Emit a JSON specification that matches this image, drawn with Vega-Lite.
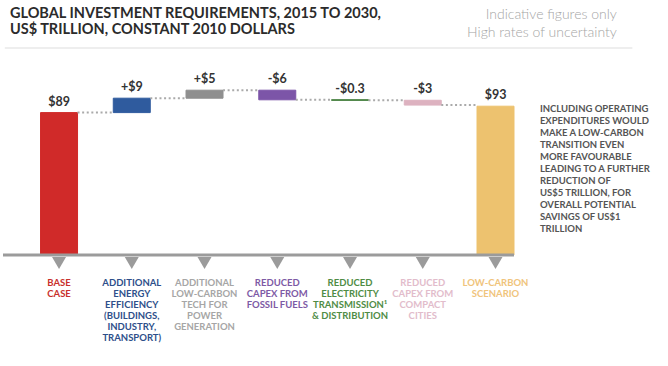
{
  "$schema": "https://vega.github.io/schema/vega-lite/v6.json",
  "width": 511,
  "height": 318,
  "autosize": {"type": "none"},
  "padding": {"left": 3, "top": 48, "right": 154, "bottom": 0},
  "config": {"view": {"stroke": null}, "font": "Lato"},
  "datasets": {
    "steps": [
      {"cat": "Base case", "label": "BASE|CASE", "start": 0, "end": 89, "top": 89, "value": "$89", "next": "Energy efficiency"},
      {"cat": "Energy efficiency", "label": "ADDITIONAL|ENERGY|EFFICIENCY|(BUILDINGS,|INDUSTRY,|TRANSPORT)", "start": 89, "end": 98, "top": 98, "value": "+$9", "next": "Low-carbon power"},
      {"cat": "Low-carbon power", "label": "ADDITIONAL|LOW-CARBON|TECH FOR|POWER|GENERATION", "start": 98, "end": 103, "top": 103, "value": "+$5", "next": "Fossil fuels"},
      {"cat": "Fossil fuels", "label": "REDUCED|CAPEX FROM|FOSSIL FUELS", "start": 103, "end": 97, "top": 103, "value": "-$6", "next": "Electricity T&D"},
      {"cat": "Electricity T&D", "label": "REDUCED|ELECTRICITY|TRANSMISSION¹|& DISTRIBUTION", "start": 97, "end": 96.7, "top": 97, "value": "-$0.3", "next": "Compact cities"},
      {"cat": "Compact cities", "label": "REDUCED|CAPEX FROM|COMPACT|CITIES", "start": 96.7, "end": 93.7, "top": 96.7, "value": "-$3", "next": "Low-carbon scenario"},
      {"cat": "Low-carbon scenario", "label": "LOW-CARBON|SCENARIO", "start": 0, "end": 93, "top": 93, "value": "$93", "next": null}
    ]
  },
  "layer": [
    {
      "data": {"name": "steps"},
      "mark": {"type": "bar", "strokeWidth": 1},
      "encoding": {
        "x": {
          "field": "cat", "type": "nominal", "sort": null, "axis": null,
          "scale": {"paddingInner": 0.4914, "paddingOuter": 0.258, "align": 1}
        },
        "y": {
          "field": "start", "type": "quantitative", "axis": null,
          "scale": {"domain": [-69.375, 129.375], "nice": false, "zero": false}
        },
        "y2": {"field": "end"},
        "color": {
          "field": "cat", "type": "nominal", "sort": null, "legend": null,
          "scale": {
            "domain": ["Base case", "Energy efficiency", "Low-carbon power", "Fossil fuels", "Electricity T&D", "Compact cities", "Low-carbon scenario"],
            "range": ["#d02a29", "#2f5b9e", "#8f8f8f", "#7c55a8", "#3c7a35", "#ddb2c0", "#edc26f"]
          }
        },
        "stroke": {
          "field": "cat", "type": "nominal", "sort": null, "legend": null,
          "scale": {
            "domain": ["Base case", "Energy efficiency", "Low-carbon power", "Fossil fuels", "Electricity T&D", "Compact cities", "Low-carbon scenario"],
            "range": ["#d02a29", "#2f5b9e", "#8f8f8f", "#7c55a8", "#3c7a35", "#ddb2c0", "#edc26f"]
          }
        }
      }
    },
    {
      "data": {"values": [{}]},
      "mark": {"type": "rule", "color": "#9b9b9b", "strokeWidth": 3},
      "encoding": {"y": {"datum": 0}}
    },
    {
      "data": {"name": "steps"},
      "mark": {"type": "point", "shape": "triangle-down", "filled": true, "size": 196, "color": "#9b9b9b", "opacity": 1, "yOffset": 8},
      "encoding": {
        "x": {"field": "cat", "type": "nominal", "sort": null},
        "y": {"datum": 0}
      }
    },
    {
      "data": {"name": "steps"},
      "transform": [{"filter": "datum.next != null"}],
      "mark": {"type": "rule", "color": "#aaaaaa", "strokeWidth": 2, "strokeDash": [2, 2.6]},
      "encoding": {
        "x": {"field": "cat", "type": "nominal", "sort": null, "bandPosition": 1},
        "x2": {"field": "next", "bandPosition": 0},
        "y": {"field": "end", "type": "quantitative"}
      }
    },
    {
      "data": {"name": "steps"},
      "mark": {"type": "text", "fontSize": 12.5, "fontWeight": "bold", "color": "#333333", "baseline": "alphabetic", "dy": -7},
      "encoding": {
        "x": {"field": "cat", "type": "nominal", "sort": null},
        "y": {"field": "top", "type": "quantitative"},
        "text": {"field": "value"}
      }
    },
    {
      "data": {"name": "steps"},
      "mark": {"type": "text", "fontSize": 9.5, "fontWeight": "bold", "baseline": "top", "align": "center", "dy": 23, "lineBreak": "|", "lineHeight": 11},
      "encoding": {
        "x": {"field": "cat", "type": "nominal", "sort": null},
        "y": {"datum": 0},
        "text": {"field": "label"},
        "color": {
          "field": "cat", "type": "nominal", "sort": null, "legend": null,
          "scale": {
            "domain": ["Base case", "Energy efficiency", "Low-carbon power", "Fossil fuels", "Electricity T&D", "Compact cities", "Low-carbon scenario"],
            "range": ["#c8302c", "#2e4f8a", "#a6a6a6", "#7d5aa5", "#4f8c45", "#e2bccb", "#f0c47c"]
          }
        }
      }
    },
    {
      "data": {"values": [{}]},
      "mark": {"type": "rule", "color": "#dddddd", "strokeWidth": 1},
      "encoding": {
        "y": {"datum": 129.375},
        "x": {"datum": "Base case", "bandPosition": -0.965},
        "x2": {"datum": "Low-carbon scenario", "bandPosition": 4.2}
      }
    },
    {
      "data": {"values": [{"t": "GLOBAL INVESTMENT REQUIREMENTS, 2015 TO 2030,|US$ TRILLION, CONSTANT 2010 DOLLARS"}]},
      "mark": {"type": "text", "align": "left", "baseline": "top", "lineBreak": "|", "fontSize": 14.5, "fontWeight": "bold", "color": "#2b2b2b", "lineHeight": 16},
      "encoding": {
        "x": {"datum": "Base case", "bandPosition": -0.827},
        "y": {"datum": 155.25},
        "text": {"field": "t"}
      }
    },
    {
      "data": {"values": [{"t": "Indicative figures only|High rates of uncertainty"}]},
      "mark": {"type": "text", "align": "right", "baseline": "top", "lineBreak": "|", "fontSize": 14, "fontWeight": 300, "color": "#a5a5a5", "lineHeight": 18},
      "encoding": {
        "x": {"datum": "Low-carbon scenario", "bandPosition": 3.78},
        "y": {"datum": 154.4},
        "text": {"field": "t"}
      }
    },
    {
      "data": {"values": [{"t": "INCLUDING OPERATING|EXPENDITURES WOULD|MAKE A LOW-CARBON|TRANSITION EVEN|MORE FAVOURABLE|LEADING TO A FURTHER|REDUCTION OF|US$5 TRILLION, FOR|OVERALL POTENTIAL|SAVINGS OF US$1|TRILLION"}]},
      "mark": {"type": "text", "align": "left", "baseline": "top", "lineBreak": "|", "fontSize": 9.5, "fontWeight": "bold", "color": "#555555", "lineHeight": 12},
      "encoding": {
        "x": {"datum": "Low-carbon scenario", "bandPosition": 1.7},
        "y": {"datum": 94.25},
        "text": {"field": "t"}
      }
    }
  ],
  "resolve": {"scale": {"color": "independent", "stroke": "independent"}}
}
